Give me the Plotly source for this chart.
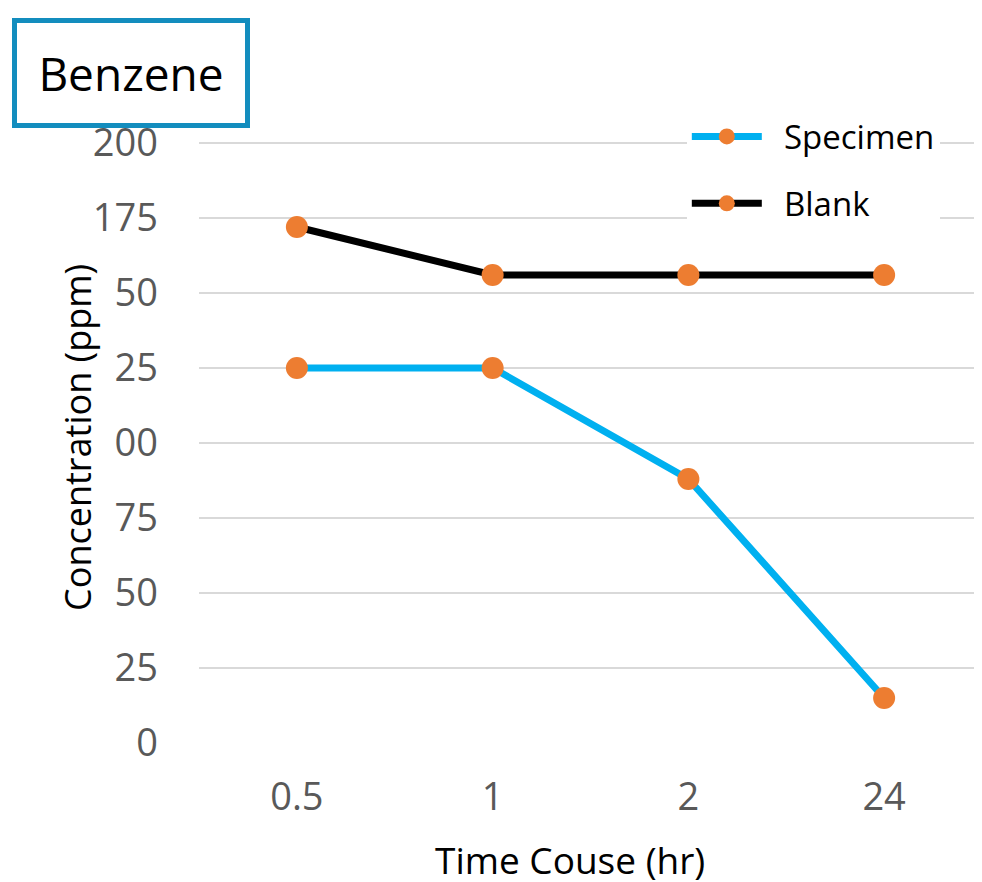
import plotly.graph_objects as go

categories = ["0.5", "1", "2", "24"]
specimen = [125, 125, 88, 15]
blank = [172, 156, 156, 156]
y_ticks = [0, 25, 50, 75, 100, 125, 150, 175, 200, 225]

FONT = "Open Sans"
BLUE = "#00B0F0"
ORANGE = "#ED7D31"

fig = go.Figure()
fig.add_trace(go.Scatter(
    x=categories, y=specimen, name="\u00a0\u00a0Specimen", mode="lines+markers",
    legendgroup="s",
    line=dict(color=BLUE, width=7),
    marker=dict(color=ORANGE, size=22),
))
fig.add_trace(go.Scatter(
    x=categories, y=blank, name="\u00a0\u00a0Blank", mode="lines+markers",
    legendgroup="b",
    line=dict(color="black", width=7),
    marker=dict(color=ORANGE, size=22),
))

# plot area: 783 x 675 px
fig.update_layout(
    width=974, height=874,
    margin=dict(l=191, r=0, t=60, b=139),
    paper_bgcolor="white", plot_bgcolor="white",
    font=dict(family=FONT, color="black"),
    showlegend=True,
    legend=dict(
        x=0.623, y=0.94, xanchor="left", yanchor="top",
        bgcolor="rgba(255,255,255,1)",
        font=dict(family=FONT, size=33, color="black"),
        itemwidth=70, tracegroupgap=21, traceorder="grouped",
    ),
    xaxis=dict(
        type="category", range=[-0.5, 3.5], showgrid=False, zeroline=False, showline=False,
        ticks="", tickfont=dict(family=FONT, size=38, color="#595959"),
        ticklabelstandoff=28,
    ),
    yaxis=dict(
        range=[0, 225], tickvals=y_ticks, showgrid=True, gridcolor="#D9D9D9", gridwidth=2,
        zeroline=False, showline=False, ticks="",
        tickfont=dict(family=FONT, size=38, color="#595959"),
        ticklabelstandoff=40,
    ),
    annotations=[
        dict(
            text="Concentration (ppm)", textangle=-90, xref="paper", yref="paper",
            x=-0.1545, y=0.452, xanchor="center", yanchor="middle", showarrow=False,
            font=dict(family=FONT, size=36, color="black"), bgcolor="white", borderpad=6,
        ),
        dict(
            text="Time Couse (hr)", xref="paper", yref="paper",
            x=0.474, y=-0.172, xanchor="center", yanchor="middle", showarrow=False,
            font=dict(family=FONT, size=37, color="black"),
        ),
        dict(
            text="Benzene", xref="paper", yref="paper",
            x=-0.2388, y=1.074, xanchor="left", yanchor="top", showarrow=False,
            font=dict(family=FONT, size=46, color="black"), bgcolor="white",
            bordercolor="#138DBE", borderwidth=5, width=228, height=100, borderpad=0,
            align="center", valign="middle",
        ),
    ],
)

fig.write_html("out.html")
